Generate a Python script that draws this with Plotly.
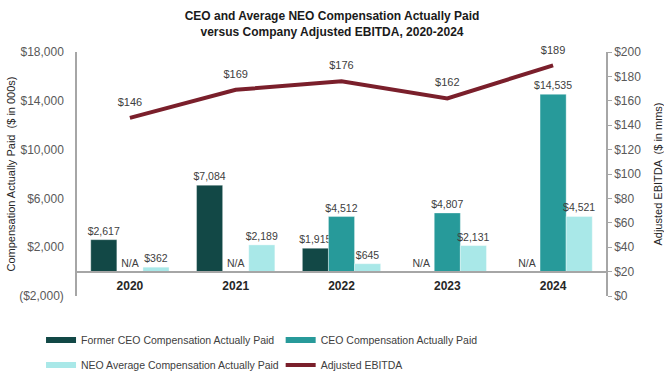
import plotly.graph_objects as go

years = ["2020", "2021", "2022", "2023", "2024"]
former_ceo = [2617, 7084, 1915, 0, 0]
former_ceo_text = ["$2,617", "$7,084", "$1,915", "N/A", "N/A"]
ceo = [0, 0, 4512, 4807, 14535]
ceo_text = ["N/A", "N/A", "$4,512", "$4,807", "$14,535"]
neo = [362, 2189, 645, 2131, 4521]
neo_text = ["$362", "$2,189", "$645", "$2,131", "$4,521"]
ebitda = [146, 169, 176, 162, 189]
ebitda_text = ["$146", "$169", "$176", "$162", "$189"]

left_ticks = [-2000, 2000, 6000, 10000, 14000, 18000]
left_ticktext = ["($2,000)", "$2,000", "$6,000", "$10,000", "$14,000", "$18,000"]
right_ticks = [0, 20, 40, 60, 80, 100, 120, 140, 160, 180, 200]
right_ticktext = ["$0", "$20", "$40", "$60", "$80", "$100", "$120", "$140", "$160", "$180", "$200"]

C_FORMER = "#124846"
C_CEO = "#279a9a"
C_NEO = "#a9e8e8"
C_LINE = "#7a1f2b"
FONT = "Liberation Sans, Arial, sans-serif"
TXT = "#404040"

fig = go.Figure()
for name, vals, txt, col in [
    ("Former CEO Compensation Actually Paid", former_ceo, former_ceo_text, C_FORMER),
    ("CEO Compensation Actually Paid", ceo, ceo_text, C_CEO),
    ("NEO Average Compensation Actually Paid", neo, neo_text, C_NEO),
]:
    fig.add_trace(go.Bar(
        x=years, y=vals, text=txt, textposition="outside", name=name,
        marker=dict(color=col, line=dict(color="rgba(255,255,255,0.6)", width=0.6)),
        textfont=dict(family=FONT, size=10.5, color=TXT),
        constraintext="none",
        cliponaxis=False, showlegend=False, hoverinfo="skip",
    ))

fig.add_trace(go.Scatter(
    x=years, y=ebitda, mode="lines+markers+text", yaxis="y2", name="Adjusted EBITDA",
    text=ebitda_text, textposition="top center",
    textfont=dict(family=FONT, size=11, color=TXT),
    marker=dict(size=13, color="rgba(0,0,0,0)"),
    line=dict(color=C_LINE, width=4), showlegend=False, hoverinfo="skip",
    cliponaxis=False,
))

legend_items = [
    ("Former CEO Compensation Actually Paid", C_FORMER, 6, "legend"),
    ("CEO Compensation Actually Paid", C_CEO, 6, "legend2"),
    ("NEO Average Compensation Actually Paid", C_NEO, 6, "legend3"),
    ("Adjusted EBITDA", C_LINE, 4, "legend4"),
]
for name, col, w, lg in legend_items:
    fig.add_trace(go.Scatter(x=[years[0]], y=[None], mode="lines", name=name,
                             line=dict(color=col, width=w), legend=lg, hoverinfo="skip"))

def leg(x, y):
    return dict(x=x, y=y, xanchor="left", yanchor="middle", xref="paper", yref="paper",
                bgcolor="rgba(0,0,0,0)", borderwidth=0, itemwidth=30,
                font=dict(family=FONT, size=10.5, color=TXT))

fig.update_layout(
    width=664, height=376,
    margin=dict(l=77, r=58, t=52, b=80, autoexpand=False),
    paper_bgcolor="white", plot_bgcolor="white",
    title=dict(text="CEO and Average NEO Compensation Actually Paid<br>versus Company Adjusted EBITDA, 2020-2024",
               x=0.5, xanchor="center", y=0.946, yanchor="top",
               font=dict(family=FONT, size=12, color="#1a1a1a", weight="bold")),
    barmode="group", bargap=0.26, bargroupgap=0,
    font=dict(family=FONT, color=TXT),
    xaxis=dict(type="category", anchor="free", position=0.1, showline=True,
               linecolor="#a6a6a6", linewidth=2, showgrid=False, automargin=False,
               ticks="outside", ticklen=3, tickcolor="rgba(0,0,0,0)",
               tickfont=dict(family=FONT, size=12, color="#262626", weight="bold")),
    yaxis=dict(range=[-2000, 18000], tickvals=left_ticks, ticktext=left_ticktext,
               showline=True, linecolor="#a6a6a6", linewidth=1.5, showgrid=False,
               zeroline=False, automargin=False,
               ticks="outside", ticklen=9, tickcolor="rgba(0,0,0,0)",
               tickfont=dict(family=FONT, size=12, color="#595959"),
               title=dict(text="Compensation Actually Paid  ($ in 000s)", standoff=1,
                          font=dict(family=FONT, size=11, color="#262626"))),
    yaxis2=dict(range=[0, 200], tickvals=right_ticks, ticktext=right_ticktext,
                overlaying="y", side="right", showline=True, linecolor="#a6a6a6",
                linewidth=1.5, showgrid=False, zeroline=False, ticks="outside",
                ticklen=4, tickcolor="#a6a6a6", automargin=False,
                tickfont=dict(family=FONT, size=12, color="#595959"),
                title=dict(text="Adjusted EBITDA  ($ in mms)", standoff=14,
                           font=dict(family=FONT, size=11, color="#262626"))),
    legend=leg(-0.068, -0.180),
    legend2=leg(0.385, -0.180),
    legend3=leg(-0.068, -0.283),
    legend4=leg(0.385, -0.283),
)

fig.write_html("out.html", config={"displayModeBar": False},
               post_script="document.body.style.margin='0';document.body.style.overflow='hidden';")
